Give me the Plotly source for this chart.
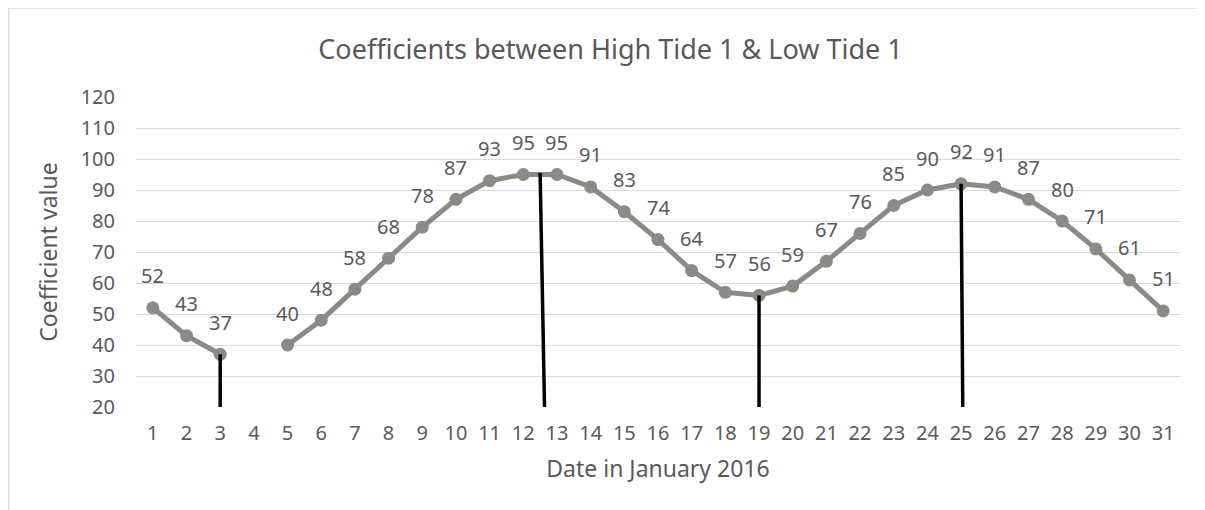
import plotly.graph_objects as go

days = list(range(1, 32))
coefficients = [52, 43, 37, None, 40, 48, 58, 68, 78, 87, 93, 95, 95, 91, 83, 74, 64, 57, 56, 59,
                67, 76, 85, 90, 92, 91, 87, 80, 71, 61, 51]
marker_x_top = [3, 12.5, 19, 25]
marker_x_bottom = [3, 12.63, 19, 25.05]
marker_y_top = [37, 95.5, 56, 92]
marker_y_bottom = [20, 20, 20, 20]
y_ticks = list(range(20, 121, 10))

FONT = "Noto Sans"
GREY_TXT = "#595959"
LINE_C = "#8a8b84"
FS = 20
FS_AX = 23

fig = go.Figure()

fig.add_trace(go.Scatter(
    x=days, y=coefficients, mode="lines+markers",
    line=dict(color=LINE_C, width=5),
    marker=dict(color=LINE_C, size=13),
    connectgaps=False, showlegend=False, hoverinfo="skip"))

for xt, xb, yt, yb in zip(marker_x_top, marker_x_bottom, marker_y_top, marker_y_bottom):
    fig.add_trace(go.Scatter(
        x=[xt, xb], y=[yt, yb], mode="lines",
        line=dict(color="black", width=3.5), showlegend=False, hoverinfo="skip"))

for d, v in zip(days, coefficients):
    if v is None:
        continue
    fig.add_annotation(x=d, y=v, text=str(v), showarrow=False, yshift=32,
                       font=dict(family=FONT, size=FS, color=GREY_TXT))

# outer chart border
fig.add_shape(type="rect", xref="paper", yref="paper",
              x0=-0.1221, x1=1.2, y0=-0.6, y1=1.287,
              line=dict(color="#d9d9d9", width=1.5), layer="below")

fig.update_layout(
    width=1205, height=510,
    margin=dict(l=128, r=33, t=89, b=111),
    paper_bgcolor="white", plot_bgcolor="white",
    title=dict(text="Coefficients between High Tide 1 & Low Tide 1",
               x=0.5, xref="container", xanchor="center", y=0.918, yanchor="middle",
               font=dict(family=FONT, size=27, color=GREY_TXT)),
    font=dict(family=FONT, color=GREY_TXT),
)
fig.update_xaxes(range=[0.5, 31.5], tickmode="array", tickvals=days,
                 ticktext=[str(d) for d in days], showgrid=False, zeroline=False,
                 showline=False, ticks="", ticklabelstandoff=12,
                 tickfont=dict(family=FONT, size=FS, color=GREY_TXT),
                 title=dict(text="Date in January 2016", standoff=15,
                            font=dict(family=FONT, size=FS_AX, color=GREY_TXT)))
fig.update_yaxes(range=[20, 120], tickmode="array", tickvals=y_ticks,
                 showgrid=True, gridcolor="#d9d9d9", gridwidth=1, zeroline=False,
                 showline=False, ticks="", ticklabelstandoff=20,
                 tickfont=dict(family=FONT, size=FS, color=GREY_TXT),
                 title=dict(text="Coefficient value", standoff=16,
                            font=dict(family=FONT, size=FS_AX, color=GREY_TXT)))

fig.write_html("out.html")
